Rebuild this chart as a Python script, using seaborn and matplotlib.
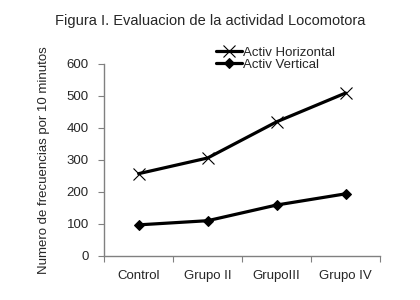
import pandas as pd
import seaborn as sns
import matplotlib.pyplot as plt

grupos = ["Control", "Grupo II", "GrupoIII", "Grupo IV"]
horizontal = [257, 306, 419, 509]
vertical = [97, 110, 159, 194]

sns.set_style("white")
plt.rcParams["font.family"] = ["Liberation Sans", "DejaVu Sans"]

fig = plt.figure(figsize=(4.2, 3.0), dpi=100)
ax = fig.add_axes([0.248, 0.147, 0.657, 0.64])

# dos series, marcadores distintos (x no se puede mezclar con D en style)
sns.lineplot(x=grupos, y=horizontal, label="Activ Horizontal", color="black",
             linewidth=2.3, marker="x", markersize=8, markeredgewidth=0.8,
             markeredgecolor="black", ax=ax)
sns.lineplot(x=grupos, y=vertical, label="Activ Vertical", color="black",
             linewidth=2.3, marker="D", markersize=5, markeredgecolor="black", ax=ax)

ax.set_xlim(-0.5, 3.5)
ax.set_ylim(0, 600)
ax.set_yticks(range(0, 601, 100))
ax.set_xticks([-0.5, 0.5, 1.5, 2.5, 3.5])
ax.set_xticklabels([])
ax.set_xticks(range(4), minor=True)
ax.set_xticklabels(grupos, minor=True)
ax.tick_params(axis="x", which="minor", length=0, pad=10, labelsize=9.5)
ax.tick_params(axis="x", which="major", length=4, color="gray", direction="out")
ax.tick_params(axis="y", length=4, color="gray", direction="out", labelsize=9.5, pad=7)
ax.tick_params(left=True, bottom=True)

for s in ["top", "right"]:
    ax.spines[s].set_visible(False)
for s in ["left", "bottom"]:
    ax.spines[s].set_color("gray")
    ax.spines[s].set_linewidth(1)

ax.set_xlabel("")
ax.set_ylabel("Numero de frecuencias por 10 minutos", fontsize=9.5, labelpad=12)
fig.suptitle("Figura I. Evaluacion de la actividad Locomotora", fontsize=10.5, y=0.955)

leg = ax.legend(loc="upper left", bbox_to_anchor=(0.38, 1.125), frameon=False,
                fontsize=9.5, handlelength=2.0, handletextpad=0.1,
                labelspacing=0.0, borderpad=0)

fig.savefig("out.png", dpi=100)
